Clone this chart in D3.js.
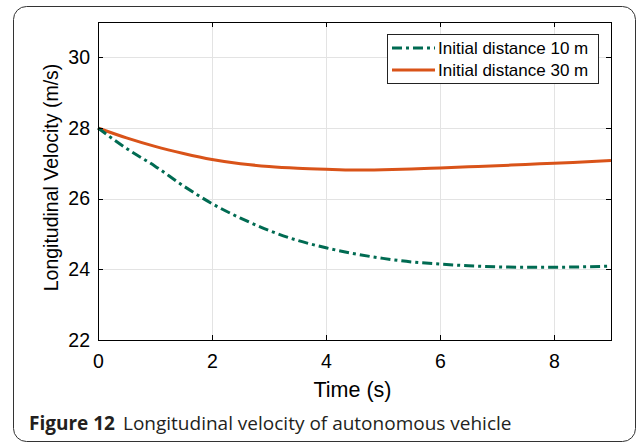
<!DOCTYPE html>
<meta charset="utf-8">
<head>
<style>
  body { margin: 0; background: #fff; }
  .axis text { font-family: "Liberation Sans", Arial, Helvetica, sans-serif; font-size: 19.5px; fill: #000; }
  .axis path, .axis line { stroke: #000; shape-rendering: crispEdges; }
  .grid line { stroke: #e3e3e3; shape-rendering: crispEdges; }
  .grid .domain { display: none; }
  .lbl { font-family: "Liberation Sans", Arial, Helvetica, sans-serif; }
</style>
</head>
<body>
<script src="https://cdn.jsdelivr.net/npm/d3@7"></script>
<script>

// time (s) and longitudinal velocity (m/s)
var time = [0, 0.5, 1, 1.5, 2, 2.5, 3, 3.5, 4, 4.5, 5, 5.5, 6, 6.5, 7, 7.5, 8, 8.5, 9];
var dist10 = [28.0, 27.42, 26.92, 26.36, 25.86, 25.45, 25.1, 24.82, 24.61, 24.44, 24.31, 24.21, 24.15, 24.1, 24.07, 24.06, 24.06, 24.07, 24.09];
var dist30 = [28.0, 27.72, 27.48, 27.28, 27.11, 26.99, 26.91, 26.86, 26.83, 26.81, 26.82, 26.84, 26.87, 26.9, 26.93, 26.97, 27.0, 27.04, 27.08];
var seriesNames = ["Initial distance 10 m", "Initial distance 30 m"];
var xTicks = [0, 2, 4, 6, 8];
var yTicks = [22, 24, 26, 28, 30];

var W = 637, H = 446;
var margin = {top: 22, left: 98},
    width = 513, height = 318;

var svg = d3.select("body").append("svg")
    .attr("width", W)
    .attr("height", H);

// figure frame with rounded corners
svg.append("rect")
    .attr("x", 13.5).attr("y", 6.5)
    .attr("width", 622).attr("height", 435)
    .attr("rx", 13)
    .style("fill", "none")
    .style("stroke", "#333")
    .style("stroke-width", 1);

var g = svg.append("g")
    .attr("transform", "translate(" + margin.left + "," + margin.top + ")");

var x = d3.scaleLinear().domain([0, 9]).range([0, width]);
var y = d3.scaleLinear().domain([22, 31]).range([height, 0]);

// grid
g.append("g").attr("class", "grid")
    .attr("transform", "translate(0," + height + ")")
    .call(d3.axisBottom(x).tickValues(xTicks).tickSize(-height).tickFormat(""));
g.append("g").attr("class", "grid")
    .call(d3.axisLeft(y).tickValues(yTicks).tickSize(-width).tickFormat(""));

var line = d3.line()
    .x(function(d, i) { return x(time[i]); })
    .y(function(d) { return y(d); })
    .curve(d3.curveMonotoneX);

g.append("path")
    .datum(dist30)
    .attr("d", line)
    .style("fill", "none")
    .style("stroke", "#d95319")
    .style("stroke-width", 3);

g.append("path")
    .datum(dist10)
    .attr("d", line)
    .style("fill", "none")
    .style("stroke", "#006b52")
    .style("stroke-width", 3)
    .style("stroke-dasharray", "10,4,3,4");

// axes, box style with inward ticks
g.append("g").attr("class", "axis")
    .attr("transform", "translate(0," + height + ")")
    .call(d3.axisBottom(x).tickValues(xTicks).tickSizeInner(-5).tickSizeOuter(0).tickPadding(14));
g.append("g").attr("class", "axis")
    .call(d3.axisLeft(y).tickValues(yTicks).tickSizeInner(-5).tickSizeOuter(0).tickPadding(8));
g.append("g").attr("class", "axis")
    .call(d3.axisTop(x).tickValues(xTicks).tickSizeInner(-5).tickSizeOuter(0).tickFormat(""));
g.append("g").attr("class", "axis")
    .attr("transform", "translate(" + width + ",0)")
    .call(d3.axisRight(y).tickValues(yTicks).tickSizeInner(-5).tickSizeOuter(0).tickFormat(""));

// axis titles
g.append("text")
    .attr("class", "lbl")
    .attr("x", width / 2 - 2)
    .attr("y", height + 57)
    .attr("text-anchor", "middle")
    .style("font-size", "21.5px")
    .text("Time (s)");

g.append("text")
    .attr("class", "lbl")
    .attr("transform", "rotate(-90)")
    .attr("x", -155.5)
    .attr("y", -40)
    .attr("text-anchor", "middle")
    .style("font-size", "19.5px")
    .text("Longitudinal Velocity (m/s)");

// legend
var lg = g.append("g").attr("transform", "translate(" + (387 - margin.left) + "," + (34 - margin.top) + ")");
lg.append("rect")
    .attr("x", 0.5).attr("y", 0.5)
    .attr("width", 211).attr("height", 49)
    .style("fill", "#fff")
    .style("stroke", "#222");
var legStyles = [{c: "#006b52", dash: "10,4,3,4"}, {c: "#d95319", dash: null}];
seriesNames.forEach(function(name, i) {
  var yy = 14 + i * 22;
  lg.append("line")
      .attr("x1", 5).attr("x2", 48)
      .attr("y1", yy).attr("y2", yy)
      .style("stroke", legStyles[i].c)
      .style("stroke-width", 3)
      .style("stroke-dasharray", legStyles[i].dash);
  lg.append("text")
      .attr("class", "lbl")
      .attr("x", 51).attr("y", yy + 6)
      .style("font-size", "17px")
      .text(name);
});

// caption
var cap = svg.append("text")
    .attr("x", 29).attr("y", 430)
    .style("font", "19px 'Open Sans', 'Noto Sans', sans-serif")
    .style("fill", "#231f20");
cap.append("tspan").style("font-weight", "bold").text("Figure 12");
cap.append("tspan").attr("dx", 8).text("Longitudinal velocity of autonomous vehicle");

</script>
</body>
